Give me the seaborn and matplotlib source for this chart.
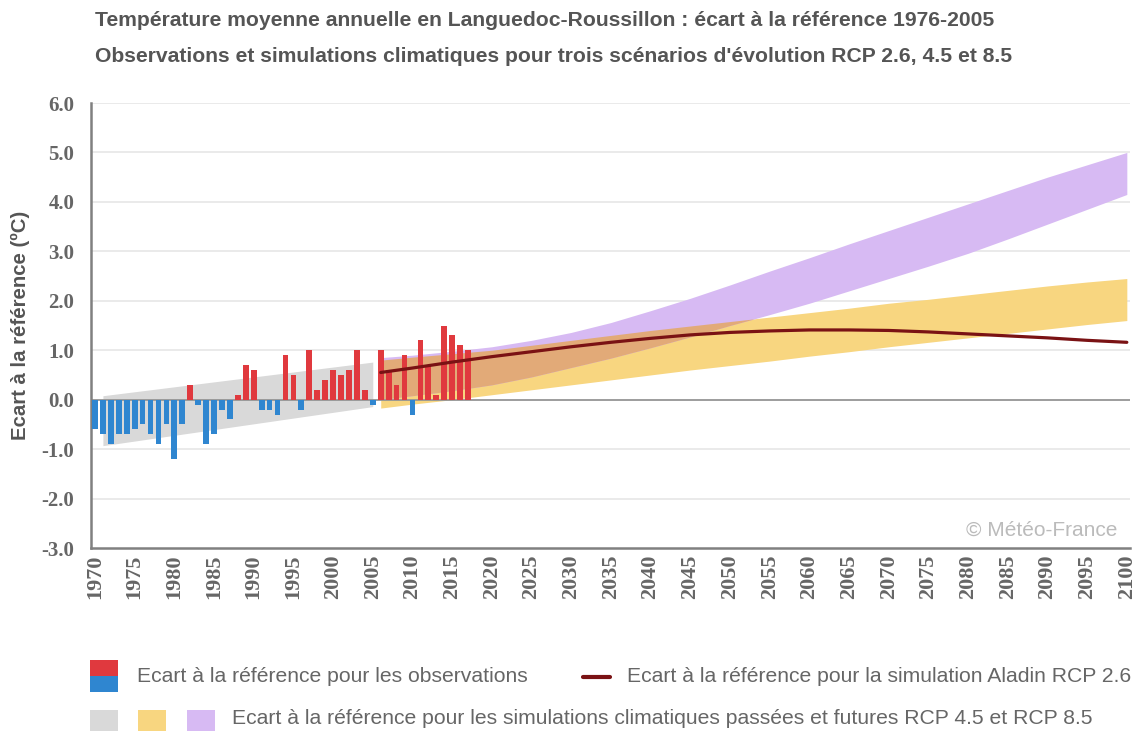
import numpy as np
import pandas as pd
import matplotlib.pyplot as plt
from matplotlib.patches import Rectangle
import seaborn as sns

# Observations (écart à la référence 1976-2005, °C)
obs_years = list(range(1970, 2018))
obs_values = [-0.6, -0.7, -0.9, -0.7, -0.7, -0.6, -0.5, -0.7, -0.9, -0.5,
              -1.2, -0.5, 0.3, -0.1, -0.9, -0.7, -0.2, -0.4, 0.1, 0.7,
              0.6, -0.2, -0.2, -0.3, 0.9, 0.5, -0.2, 1.0, 0.2, 0.4,
              0.6, 0.5, 0.6, 1.0, 0.2, -0.1, 1.0, 0.6, 0.3, 0.9,
              -0.3, 1.2, 0.7, 0.1, 1.5, 1.3, 1.1, 1.0]

# Simulations passées (gris)
hist_years = [1971, 2005]
hist_low = [-0.93, -0.14]
hist_high = [0.08, 0.76]

# Simulations futures RCP 4.5 (jaune) et RCP 8.5 (violet), Aladin RCP 2.6
scen_years = [2006, 2010, 2015, 2020, 2025, 2030, 2035, 2040, 2045, 2050,
              2055, 2060, 2065, 2070, 2075, 2080, 2085, 2090, 2095, 2100]
rcp45_low = [-0.17, -0.09, 0.00, 0.10, 0.20, 0.30, 0.40, 0.50, 0.60, 0.69,
             0.78, 0.88, 0.97, 1.07, 1.16, 1.25, 1.34, 1.43, 1.52, 1.60]
rcp45_high = [0.80, 0.86, 0.93, 1.00, 1.10, 1.20, 1.30, 1.40, 1.49, 1.58,
              1.67, 1.76, 1.85, 1.95, 2.03, 2.12, 2.21, 2.30, 2.38, 2.45]
rcp85_low = [0.00, 0.08, 0.18, 0.30, 0.46, 0.65, 0.84, 1.05, 1.27, 1.50,
             1.72, 1.95, 2.20, 2.45, 2.70, 2.96, 3.25, 3.55, 3.85, 4.15]
rcp85_high = [0.85, 0.90, 0.98, 1.07, 1.20, 1.36, 1.56, 1.80, 2.05, 2.32,
              2.60, 2.87, 3.15, 3.42, 3.69, 3.96, 4.23, 4.50, 4.75, 5.00]
aladin_values = [0.55, 0.64, 0.76, 0.87, 0.97, 1.07, 1.16, 1.24, 1.31, 1.36,
                 1.39, 1.41, 1.41, 1.40, 1.37, 1.33, 1.29, 1.25, 1.20, 1.16]

x_ticks = list(range(1970, 2101, 5))
y_ticks = [-3, -2, -1, 0, 1, 2, 3, 4, 5, 6]

RED = "#E0393E"
BLUE = "#2F86D0"
GREY_BAND = "#D9D9D9"
YELLOW = "#F8D680"
PURPLE = "#D7BAF3"
OVERLAP = "#E2AA78"
LINE = "#7A1214"
TXT = "#666666"

sns.set_theme(style="white")
plt.rcParams["font.family"] = ["Liberation Sans", "DejaVu Sans"]

W, H = 1135, 731
fig = plt.figure(figsize=(W / 100, H / 100), dpi=100)
ax = fig.add_axes([91 / W, 1 - 548 / H, (1130 - 91) / W, (548 - 103) / H])

# bandes
ax.fill_between(hist_years, hist_low, hist_high, color=GREY_BAND, lw=0, zorder=1)
ax.fill_between(scen_years, rcp45_low, rcp45_high, color=YELLOW, lw=0, zorder=1)
ax.fill_between(scen_years, rcp85_low, rcp85_high, color=PURPLE, lw=0, zorder=1)
lo = np.maximum(rcp45_low, rcp85_low)
hi = np.minimum(rcp45_high, rcp85_high)
ax.fill_between(scen_years, lo, hi, where=hi > lo, interpolate=True,
                color=OVERLAP, lw=0, zorder=1.1)

# barres observations
df = pd.DataFrame({"annee": obs_years, "ecart": obs_values})
df["signe"] = np.where(df["ecart"] >= 0, "pos", "neg")
sns.barplot(data=df, x="annee", y="ecart", hue="signe",
            palette={"pos": RED, "neg": BLUE}, native_scale=True,
            width=0.72, dodge=False, saturation=1, legend=False,
            linewidth=0, edgecolor="none", zorder=3, ax=ax)

# courbe Aladin
sns.lineplot(x=scen_years, y=aladin_values, color=LINE, lw=2.3,
             zorder=4, ax=ax)

ax.axhline(0, color="#959595", lw=1.3, zorder=2.5)
for v in y_ticks[1:]:
    if v != 0:
        ax.axhline(v, color="#E6E6E6", lw=1.2, zorder=0)

ax.set_xlim(1969.5, 2100.4)
ax.set_ylim(-3, 6)
ax.set_xticks(x_ticks)
ax.set_xticklabels([str(t) for t in x_ticks], rotation=90)
ax.set_yticks(y_ticks)
ax.set_yticklabels([f"{v:.1f}" for v in y_ticks])
ax.tick_params(axis="both", length=0, labelcolor=TXT, labelsize=15)
ax.tick_params(axis="x", pad=5, labelsize=16)
ax.tick_params(axis="y", pad=12)
for lab in ax.get_xticklabels() + ax.get_yticklabels():
    lab.set_fontfamily(["Liberation Serif", "DejaVu Serif"])
    lab.set_fontweight("bold")
ax.set_xlabel("")
ax.set_ylabel("Ecart à la référence (ºC)", fontsize=14.7, fontweight="bold",
              color="#555555", labelpad=8)

for s in ["top", "right"]:
    ax.spines[s].set_visible(False)
for s in ["left", "bottom"]:
    ax.spines[s].set_color("#808080")
    ax.spines[s].set_linewidth(1.8)

ax.text(0.9875, 0.04, "© Météo-France", transform=ax.transAxes,
        ha="right", va="center", fontsize=15, color="#BBBBBB", zorder=5)

# titres
fig.text(95 / W, 1 - 20 / H,
         "Température moyenne annuelle en Languedoc-Roussillon : écart à la référence 1976-2005",
         fontsize=15.2, fontweight="bold", color="#555555", va="center")
fig.text(95 / W, 1 - 56 / H,
         "Observations et simulations climatiques pour trois scénarios d'évolution RCP 2.6, 4.5 et 8.5",
         fontsize=15.2, fontweight="bold", color="#555555", va="center")

# légende
lax = fig.add_axes([0, 0, 1, 1], facecolor="none")
lax.set_xlim(0, W)
lax.set_ylim(H, 0)
lax.axis("off")
lax.add_patch(Rectangle((90, 660), 28, 16, color=RED, lw=0))
lax.add_patch(Rectangle((90, 676), 28, 16, color=BLUE, lw=0))
lax.text(137, 676, "Ecart à la référence pour les observations",
         fontsize=15.2, color=TXT, va="center")
lax.plot([583, 610], [677, 677], color=LINE, lw=3)
lax.text(627, 676, "Ecart à la référence pour la simulation Aladin RCP 2.6",
         fontsize=15.2, color=TXT, va="center")
lax.add_patch(Rectangle((90, 710), 28, 25, color=GREY_BAND, lw=0))
lax.add_patch(Rectangle((138, 710), 28, 25, color=YELLOW, lw=0))
lax.add_patch(Rectangle((187, 710), 28, 25, color=PURPLE, lw=0))
lax.text(232, 719,
         "Ecart à la référence pour les simulations climatiques passées et futures RCP 4.5 et RCP 8.5",
         fontsize=15.2, color=TXT, va="center")

fig.savefig("out.png", dpi=100)
